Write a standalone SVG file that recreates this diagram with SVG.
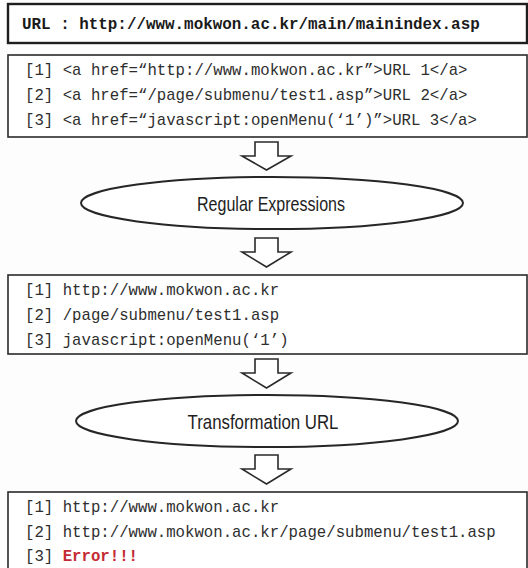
<svg xmlns="http://www.w3.org/2000/svg" width="528" height="568" viewBox="0 0 528 568">
  <defs>
    <style>
      .box { fill: #ffffff; stroke: #2a2a2a; stroke-width: 1.6; }
      .box-head { fill: #ffffff; stroke: #1e1e1e; stroke-width: 2.4; }
      .code { font-family: "Liberation Mono", "DejaVu Sans Mono", monospace; font-size: 15.7px; fill: #2e2e2e; }
      .code-bold { font-family: "Liberation Mono", "DejaVu Sans Mono", monospace; font-size: 15.9px; font-weight: bold; fill: #1a1a1a; }
      .err { fill: #c42a32; font-weight: bold; }
      .step { fill: #ffffff; stroke: #262626; stroke-width: 2; }
      .step-label { font-family: "Liberation Sans", Arial, sans-serif; font-size: 21px; fill: #1e1e1e; text-anchor: middle; }
      .flow { fill: #ffffff; stroke: #2a2a2a; stroke-width: 1.6; stroke-linejoin: miter; }
    </style>
  </defs>

  <rect width="528" height="568" fill="#fdfdfd"/>

  <!-- source page URL -->
  <g id="page-url">
    <rect class="box-head" x="8" y="4" width="519" height="39"/>
    <text class="code-bold" x="22" y="29">URL : http://www.mokwon.ac.kr/main/mainindex.asp</text>
  </g>

  <!-- anchor tags found in the page -->
  <g id="anchor-tags">
    <rect class="box" x="8" y="55" width="519" height="82"/>
    <text class="code" x="25" y="75">[1] &lt;a href=“http://www.mokwon.ac.kr”&gt;URL 1&lt;/a&gt;</text>
    <text class="code" x="25" y="100">[2] &lt;a href=“/page/submenu/test1.asp”&gt;URL 2&lt;/a&gt;</text>
    <text class="code" x="25" y="125">[3] &lt;a href=“javascript:openMenu(‘1’)”&gt;URL 3&lt;/a&gt;</text>
  </g>

  <!-- step 1 -->
  <g id="regex-step">
    <ellipse class="step" cx="272" cy="203" rx="191" ry="26"/>
    <text class="step-label" x="271" y="211" textLength="148" lengthAdjust="spacingAndGlyphs">Regular Expressions</text>
  </g>

  <!-- extracted href values -->
  <g id="extracted-links">
    <rect class="box" x="8" y="275" width="519" height="79"/>
    <text class="code" x="25" y="295">[1] http://www.mokwon.ac.kr</text>
    <text class="code" x="25" y="320">[2] /page/submenu/test1.asp</text>
    <text class="code" x="25" y="345">[3] javascript:openMenu(‘1’)</text>
  </g>

  <!-- step 2 -->
  <g id="transform-step">
    <ellipse class="step" cx="267" cy="421" rx="191" ry="26"/>
    <text class="step-label" x="263" y="429" textLength="151" lengthAdjust="spacingAndGlyphs">Transformation URL</text>
  </g>

  <!-- absolute URLs -->
  <g id="absolute-links">
    <rect class="box" x="8" y="492" width="519" height="90"/>
    <text class="code" x="25" y="512">[1] http://www.mokwon.ac.kr</text>
    <text class="code" x="25" y="537">[2] http://www.mokwon.ac.kr/page/submenu/test1.asp</text>
    <text class="code" x="25" y="561">[3] <tspan class="err">Error!!!</tspan></text>
  </g>

  <!-- block arrows between stages -->
  <g id="connectors">
    <path class="flow" d="M255,142 H278 V156 H291 L266.5,170 L242,156 H255 Z"/>
    <path class="flow" d="M255,238 H278 V252 H291 L266.5,267 L242,252 H255 Z"/>
    <path class="flow" d="M255,359 H278 V373 H291 L266.5,388 L242,373 H255 Z"/>
    <path class="flow" d="M255,455 H278 V469 H291 L266.5,484 L242,469 H255 Z"/>
  </g>
</svg>
